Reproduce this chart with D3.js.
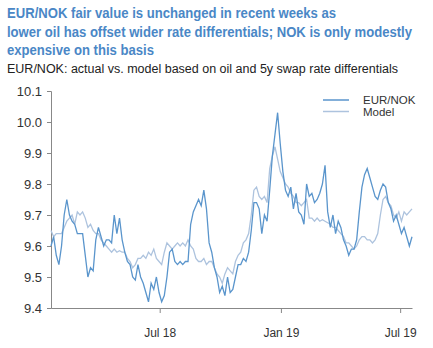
<!DOCTYPE html>
<html><head><meta charset="utf-8">
<script src="https://cdn.jsdelivr.net/npm/d3@7"></script>
<style>
html,body{margin:0;padding:0;background:#fff;}
svg{display:block;font-family:"Liberation Sans",Arial,sans-serif;}
</style></head>
<body>
<svg id="chart" width="433" height="348"></svg>
<script>
const titleLines = [
  "EUR/NOK fair value is unchanged in recent weeks as",
  "lower oil has offset wider rate differentials; NOK is only modestly",
  "expensive on this basis"
];
const subtitle = "EUR/NOK: actual vs. model based on oil and 5y swap rate differentials";
const seriesNames = ["EUR/NOK", "Model"];
const startDate = "2018-01-17";
const stepDays = 4;
const eurnok = [9.60,9.63,9.57,9.54,9.60,9.70,9.75,9.70,9.68,9.67,9.64,9.64,9.64,9.57,9.50,9.53,9.52,9.62,9.66,9.63,
9.60,9.62,9.62,9.61,9.70,9.64,9.69,9.62,9.58,9.55,9.54,9.50,9.49,9.54,9.50,9.48,9.45,9.42,9.48,9.46,
9.50,9.45,9.42,9.44,9.50,9.58,9.59,9.55,9.54,9.55,9.54,9.55,9.55,9.67,9.71,9.73,9.75,9.73,9.78,9.72,
9.61,9.58,9.53,9.50,9.45,9.47,9.44,9.50,9.45,9.46,9.50,9.54,9.54,9.56,9.55,9.58,9.65,9.74,9.74,9.72,
9.64,9.70,9.68,9.78,9.89,9.96,10.03,9.93,9.84,9.78,9.76,9.79,9.72,9.77,9.71,9.70,9.67,9.80,9.76,9.77,
9.74,9.75,9.77,9.80,9.86,9.71,9.66,9.70,9.64,9.68,9.66,9.62,9.60,9.57,9.59,9.59,9.62,9.71,9.79,9.83,
9.85,9.82,9.79,9.76,9.75,9.78,9.80,9.79,9.74,9.72,9.68,9.70,9.67,9.64,9.66,9.63,9.60,9.63];
const model = [9.65,9.63,9.64,9.64,9.64,9.66,9.68,9.69,9.70,9.67,9.71,9.70,9.71,9.69,9.66,9.67,9.65,9.64,9.64,9.62,
9.61,9.60,9.59,9.58,9.59,9.58,9.585,9.58,9.58,9.56,9.55,9.53,9.54,9.56,9.56,9.57,9.56,9.58,9.57,9.59,
9.56,9.55,9.54,9.58,9.61,9.60,9.59,9.60,9.61,9.60,9.61,9.60,9.62,9.60,9.59,9.56,9.55,9.55,9.56,9.54,
9.55,9.55,9.53,9.51,9.50,9.48,9.51,9.53,9.52,9.51,9.55,9.57,9.58,9.61,9.62,9.64,9.70,9.78,9.79,9.76,
9.75,9.76,9.74,9.85,9.89,9.92,9.88,9.84,9.82,9.80,9.79,9.77,9.76,9.74,9.74,9.73,9.74,9.75,9.69,9.69,
9.68,9.69,9.68,9.685,9.68,9.675,9.67,9.66,9.66,9.65,9.64,9.63,9.61,9.61,9.60,9.59,9.60,9.62,9.63,9.63,
9.62,9.62,9.61,9.62,9.64,9.70,9.75,9.76,9.74,9.73,9.70,9.69,9.71,9.68,9.71,9.70,9.71,9.72];
const yTicks = [9.4,9.5,9.6,9.7,9.8,9.9,10.0,10.1];
const xTickDates = ["2018-07-01","2019-01-01","2019-07-01"];
const xTickLabels = ["Jul 18","Jan 19","Jul 19"];

const parse = d3.timeParse("%Y-%m-%d");
const t0 = parse(startDate);
const dates = eurnok.map((_, i) => d3.timeDay.offset(t0, i * stepDays));

const svg = d3.select("#chart");
const W = 433, H = 348;
const margin = {left: 51, right: 21, top: 91, bottom: 40};

const x = d3.scaleTime().domain([dates[0], dates[dates.length - 1]]).range([margin.left, W - margin.right]);
const y = d3.scaleLinear().domain([9.4, 10.1]).range([H - margin.bottom, margin.top]);

// Title
const titleWidths = [329, 405, 147];
const title = svg.append("g");
titleLines.forEach((t, i) => {
  title.append("text").attr("x", 7).attr("y", 18 + i * 18.7)
    .attr("fill", "#4a87c6").attr("font-weight", "bold").attr("font-size", 13)
    .attr("textLength", titleWidths[i]).attr("lengthAdjust", "spacingAndGlyphs")
    .attr("transform", `translate(0,${18 + i * 18.7}) scale(1,1.1) translate(0,${-(18 + i * 18.7)})`)
    .text(t);
});
svg.append("text").attr("x", 7).attr("y", 73).attr("fill", "#222").attr("font-size", 12.5).text(subtitle);

// Axes
const yAxis = d3.axisLeft(y).tickValues(yTicks).tickFormat(d3.format(".1f")).tickSize(4).tickPadding(5);
const gy = svg.append("g").attr("transform", `translate(${margin.left},0)`).call(yAxis);
gy.select(".domain").attr("stroke", "#888");
gy.selectAll(".tick line").attr("stroke", "#888");
gy.selectAll(".tick text").attr("font-size", 13).attr("fill", "#333").attr("font-family", "Liberation Sans, Arial, sans-serif");

const xAxis = d3.axisBottom(x).tickValues(xTickDates.map(parse))
  .tickFormat((d, i) => xTickLabels[i]).tickSize(5).tickPadding(15).tickSizeOuter(0);
const gx = svg.append("g").attr("transform", `translate(0,${H - margin.bottom})`).call(xAxis);
gx.select(".domain").attr("stroke", "#888");
gx.selectAll(".tick line").attr("stroke", "#888");
gx.selectAll(".tick text").attr("font-size", 12).attr("fill", "#333").attr("font-family", "Liberation Sans, Arial, sans-serif");

// Lines
const line = d3.line().x((d, i) => x(dates[i])).y(d => y(d));
svg.append("path").datum(model).attr("fill", "none").attr("stroke", "#adc3de").attr("stroke-width", 1.3).attr("d", line);
svg.append("path").datum(eurnok).attr("fill", "none").attr("stroke", "#5a95cc").attr("stroke-width", 1.3).attr("d", line);

// Legend
const colors = ["#5a95cc", "#adc3de"];
const lg = svg.append("g");
seriesNames.forEach((n, i) => {
  lg.append("line").attr("x1", 323).attr("x2", 349).attr("y1", 100 + i * 11.5).attr("y2", 100 + i * 11.5)
    .attr("stroke", colors[i]).attr("stroke-width", 1.5);
  lg.append("text").attr("x", 363).attr("y", 103.5 + i * 12).attr("font-size", 11.5).attr("fill", "#333").text(n);
});
</script>
</body></html>
